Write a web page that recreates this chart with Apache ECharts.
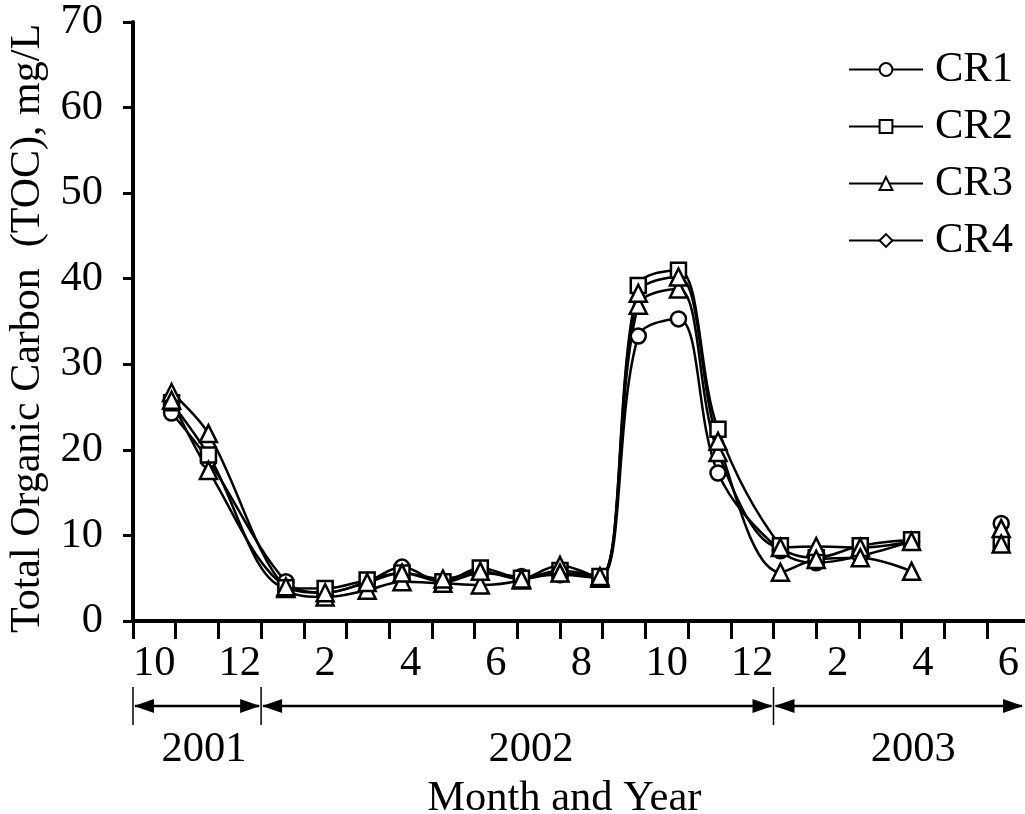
<!DOCTYPE html>
<html>
<head>
<meta charset="utf-8">
<script src="https://cdn.jsdelivr.net/npm/echarts@6/dist/echarts.min.js"></script>
<style>
html,body{margin:0;padding:0;background:#fff;}
#chart{width:1025px;height:814px;}
</style>
</head>
<body>
<div id="chart"></div>
<script>
// ---- data ----
const sampleDates = ['2001-10-29','2001-11-24','2002-01-19','2002-02-15','2002-03-16','2002-04-10',
  '2002-05-09','2002-06-05','2002-07-04','2002-08-01','2002-08-30','2002-09-26','2002-10-25',
  '2002-11-22','2003-01-06','2003-02-01','2003-03-02','2003-04-08','2003-06-11'];
const cr1 = [24.3,18.8,4.6,3.3,4.6,6.3,4.5,5.6,5.2,5.4,5.0,33.3,35.3,17.3,8.2,6.8,7.6,9.3,11.4];
const cr2 = [25.5,19.4,3.9,3.8,4.8,5.6,4.6,6.2,5.0,5.9,5.2,39.2,41.0,22.4,8.8,7.4,8.8,9.5,9.0];
const cr3 = [26.7,21.9,3.8,2.8,3.6,4.6,4.4,4.2,4.8,6.5,5.0,36.9,38.8,19.7,8.6,8.7,8.6,9.3,10.8];
const cr4 = [25.8,17.6,4.0,3.3,4.5,5.6,4.9,5.8,4.9,5.6,5.2,38.3,40.2,21.0,5.7,7.2,7.4,5.8,9.0];
const seriesNames = ['CR1','CR2','CR3','CR4'];
const yTicks = [0,10,20,30,40,50,60,70];
const monthLabels = ['10','12','2','4','6','8','10','12','2','4','6'];
const yearLabels = ['2001','2002','2003'];
const yearBoundaries = [0, 3, 15];      // months since 1 Oct 2001 (Oct 2001, Jan 2002, Jan 2003)
const yearLabelMonths = [1.66, 9.32, 18.27];

// ---- helpers ----
const FONT = "'Liberation Serif','Times New Roman',serif";
const FS = 42.5;
function monthsSinceStart(s) {
  const [y, m, d] = s.split('-').map(Number);
  const dim = new Date(y, m, 0).getDate();
  return (y - 2001) * 12 + (m - 10) + (d - 1) / dim;
}
const xs = sampleDates.map(monthsSinceStart);
function buildData(vals, symbolOverride) {
  const out = [];
  for (let i = 0; i < vals.length; i++) {
    // no sample in May 2003: break the line there
    if (i > 0 && xs[i] - xs[i-1] > 1.95) out.push([(xs[i] + xs[i-1]) / 2, '-']);
    const item = { value: [xs[i], vals[i]] };
    if (symbolOverride) item.symbol = symbolOverride;
    out.push(item);
  }
  return out;
}
const XMAX = 21;
const chart = echarts.init(document.getElementById('chart'), null, {renderer: 'canvas'});

function mkSeries(name, vals, symbol, override, size) {
  return {
    name: name, type: 'line', xAxisIndex: 0, yAxisIndex: 0,
    data: buildData(vals, override),
    smooth: 0.35,
    symbol: symbol, symbolSize: size,
    showAllSymbol: true,
    connectNulls: false,
    lineStyle: {color: '#000', width: 2.5},
    itemStyle: {color: '#fff', borderColor: '#000', borderWidth: 2.5},
    emphasis: {disabled: true},
    animation: false, z: 3
  };
}

const option = {
  animation: false,
  backgroundColor: '#fff',
  textStyle: {fontFamily: FONT, color: '#000'},
  grid: {left: 133, top: 22, width: 42.7 * XMAX, height: 599, containLabel: false, outerBoundsMode: 'none'},
  legend: {
    orient: 'vertical', left: 848, top: 48, padding: 0,
    itemWidth: 74, itemHeight: 16, itemGap: 14,
    data: seriesNames,
    textStyle: {fontFamily: FONT, fontSize: FS, color: '#000', padding: [0,0,0,7]},
    selectedMode: false
  },
  xAxis: [
    {
      type: 'value', min: 0, max: XMAX, interval: 1, position: 'bottom',
      axisLine: {show: true, onZero: false, lineStyle: {color: '#000', width: 4}},
      axisTick: {show: true, inside: false, length: 18, lineStyle: {color: '#000', width: 3}},
      axisLabel: {show: false},
      splitLine: {show: false},
      name: 'Month and Year', nameLocation: 'middle', nameGap: 156,
      nameTextStyle: {fontFamily: FONT, fontSize: FS, color: '#000', padding: [0, 34, 0, 0]}
    },
    {
      type: 'value', min: 0, max: XMAX, interval: 0.5, position: 'bottom',
      axisLine: {show: false}, axisTick: {show: false}, splitLine: {show: false},
      axisLabel: {
        show: true, margin: 21, fontFamily: FONT, fontSize: FS, color: '#000',
        showMinLabel: true, showMaxLabel: true,
        formatter: function (v) {
          const r = v - Math.floor(v);
          if (Math.abs(r - 0.5) > 1e-6) return '';
          const k = Math.floor(v);
          if (k % 2 !== 0) return '';
          const idx = k / 2;
          return idx < monthLabels.length ? monthLabels[idx] : '';
        }
      }
    }
  ],
  yAxis: {
    type: 'value', min: yTicks[0], max: yTicks[yTicks.length-1], interval: 10,
    axisLine: {show: true, lineStyle: {color: '#000', width: 4}},
    axisTick: {show: true, inside: false, length: 10, lineStyle: {color: '#000', width: 3}},
    axisLabel: {margin: 30, fontFamily: FONT, fontSize: FS, color: '#000'},
    splitLine: {show: false},
    name: 'Total Organic Carbon  (TOC), mg/L', nameLocation: 'middle', nameGap: 84,
    nameTextStyle: {fontFamily: FONT, fontSize: 42, color: '#000', padding: [0, 14, 0, 0]}
  },
  series: [
    mkSeries('CR1', cr1, 'circle', null, 15),
    mkSeries('CR2', cr2, 'rect', null, 15),
    mkSeries('CR3', cr3, 'triangle', null, 17),
    mkSeries('CR4', cr4, 'diamond', 'triangle', 17)
  ]
};
chart.setOption(option);

// ---- year arrows & labels (positions via the axis scale) ----
const px = m => chart.convertToPixel({xAxisIndex: 0}, m);
const ARROW_Y = 706, BAR_TOP = 687, BAR_BOT = 725, AL = 20, AH = 7;
const endX = 1024;
const gfx = [];
const bx = yearBoundaries.map(px);
bx.forEach(x => gfx.push({type: 'line', shape: {x1: x, y1: BAR_TOP, x2: x, y2: BAR_BOT}, style: {stroke: '#000', lineWidth: 1.5}}));
const spans = [];
for (let i = 0; i < bx.length; i++) spans.push([bx[i], i + 1 < bx.length ? bx[i+1] : endX]);
spans.forEach(([a, b]) => {
  gfx.push({type: 'line', shape: {x1: a + 2, y1: ARROW_Y, x2: b - 2, y2: ARROW_Y}, style: {stroke: '#000', lineWidth: 2.5}});
  gfx.push({type: 'polygon', shape: {points: [[a + 1, ARROW_Y], [a + 1 + AL, ARROW_Y - AH], [a + 1 + AL, ARROW_Y + AH]]}, style: {fill: '#000'}});
  gfx.push({type: 'polygon', shape: {points: [[b - 1, ARROW_Y], [b - 1 - AL, ARROW_Y - AH], [b - 1 - AL, ARROW_Y + AH]]}, style: {fill: '#000'}});
});
yearLabels.forEach((t, i) => {
  gfx.push({type: 'text', x: px(yearLabelMonths[i]), y: 750,
    style: {text: t, fontFamily: FONT, fontSize: FS, fill: '#000', align: 'center', verticalAlign: 'middle'}});
});
chart.setOption({graphic: gfx});
</script>
</body>
</html>
